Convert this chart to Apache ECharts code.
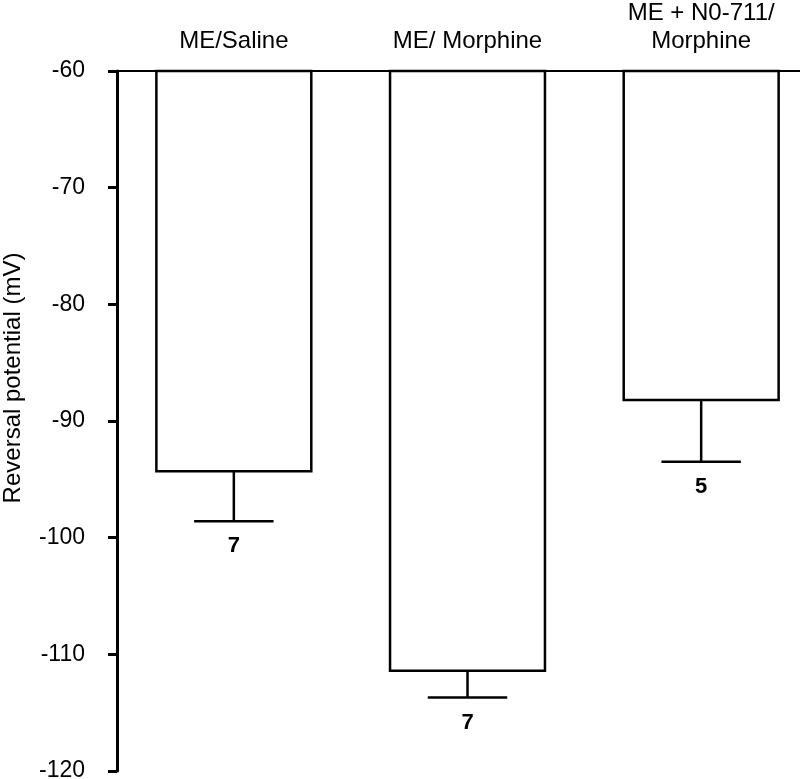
<!DOCTYPE html>
<html>
<head>
<meta charset="utf-8">
<script src="https://cdn.jsdelivr.net/npm/echarts@6/dist/echarts.min.js"></script>
<style>
  html, body { margin: 0; padding: 0; background: #fff; }
  #chart { width: 800px; height: 779px; }
</style>
</head>
<body>
<div id="chart"></div>
<script>
// groups along the top
var categories = ['ME/Saline', 'ME/ Morphine', 'ME + N0-711/\nMorphine']
// mean reversal potential (mV)
var means = [-94.3, -111.4, -88.2]
// lower end of the error bar (mean - SEM)
var errLow = [-98.6, -113.7, -93.5]
// n per group, printed under each error bar
var nLabels = ['7', '7', '5']
var yMin = -120
var yMax = -60
var yStep = 10

var chart = echarts.init(document.getElementById('chart'))

var barData = means.map(function(v, i) { return [i, v] })
var errData = means.map(function(v, i) { return [i, v, errLow[i], nLabels[i]] })

chart.setOption({
  backgroundColor: '#fff',
  animation: false,
  grid: {
    left: 117,
    right: -18,
    top: 71,
    bottom: 8,
    containLabel: false,
    outerBoundsMode: 'none'
  },
  xAxis: {
    type: 'category',
    position: 'top',
    data: categories,
    axisLine: { show: true, onZero: false, lineStyle: { color: '#000', width: 2 } },
    axisTick: { show: false },
    splitLine: { show: false },
    axisLabel: {
      color: '#000',
      fontFamily: 'Liberation Sans, Arial, sans-serif',
      fontSize: 24,
      lineHeight: 28,
      margin: 16,
      interval: 0
    }
  },
  yAxis: {
    type: 'value',
    min: yMin,
    max: yMax,
    interval: yStep,
    name: 'Reversal potential (mV)',
    nameLocation: 'middle',
    nameGap: 92,
    nameTextStyle: {
      color: '#000',
      fontFamily: 'Liberation Sans, Arial, sans-serif',
      fontSize: 24,
      padding: [0, 0, 0, 86]
    },
    axisLine: { show: true, onZero: false, lineStyle: { color: '#000', width: 3 } },
    axisTick: { show: true, inside: false, length: 9, lineStyle: { color: '#000', width: 3 } },
    splitLine: { show: false },
    axisLabel: {
      color: '#000',
      fontFamily: 'Liberation Sans, Arial, sans-serif',
      fontSize: 23,
      margin: 32
    }
  },
  series: [
    {
      // bars hang down from the top of the axis (-60)
      type: 'custom',
      data: barData,
      encode: { x: 0, y: 1 },
      z: 2,
      renderItem: function(params, api) {
        var top = api.coord([api.value(0), yMax])
        var bot = api.coord([api.value(0), api.value(1)])
        var w = api.size([1, 0])[0] * 0.663
        return {
          type: 'rect',
          shape: { x: top[0] - w / 2, y: top[1], width: w, height: bot[1] - top[1] },
          style: { fill: '#fff', stroke: '#000', lineWidth: 2.5 }
        }
      }
    },
    {
      // error bars + n labels
      type: 'custom',
      data: errData,
      encode: { x: 0, y: [1, 2] },
      z: 3,
      renderItem: function(params, api) {
        var p1 = api.coord([api.value(0), api.value(1)])
        var p2 = api.coord([api.value(0), api.value(2)])
        var cap = api.size([1, 0])[0] * 0.34
        var lineStyle = { stroke: '#000', lineWidth: 2.5 }
        return {
          type: 'group',
          children: [
            { type: 'line', shape: { x1: p1[0], y1: p1[1], x2: p2[0], y2: p2[1] }, style: lineStyle },
            { type: 'line', shape: { x1: p2[0] - cap / 2, y1: p2[1], x2: p2[0] + cap / 2, y2: p2[1] }, style: lineStyle },
            {
              type: 'text',
              x: p2[0],
              y: p2[1] + 25,
              style: {
                text: api.value(3) + '',
                fill: '#000',
                font: 'bold 22px "Liberation Sans", Arial, sans-serif',
                align: 'center',
                verticalAlign: 'middle'
              }
            }
          ]
        }
      }
    }
  ]
})
</script>
</body>
</html>
